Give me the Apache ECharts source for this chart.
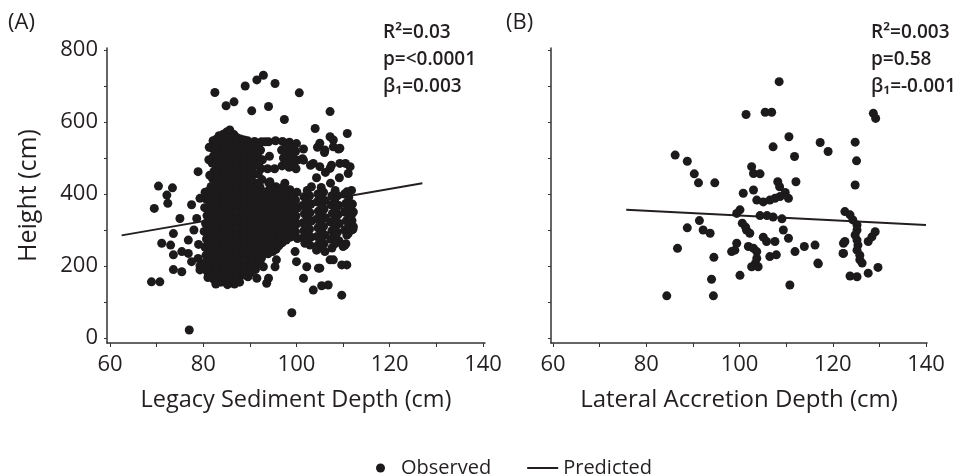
<!DOCTYPE html>
<html>
<head>
<meta charset="utf-8">
<script src="https://cdn.jsdelivr.net/npm/echarts@6/dist/echarts.min.js"></script>
<style>
html,body{margin:0;padding:0;background:#fff;}
#chart{width:956px;height:475px;}
</style>
</head>
<body>
<div id="chart"></div>
<script>
// ---- Data ----
const xTicks = [60, 80, 100, 120, 140];
const xMinorTicks = [60, 70, 80, 90, 100, 110, 120, 130, 140];
const yTicks = [0, 200, 400, 600, 800];
const yMinorTicks = [0, 100, 200, 300, 400, 500, 600, 700, 800];

const statsA = ['R\u00B2=0.03', 'p=<0.0001', '\u03B2\u2081=0.003'];
const statsB = ['R\u00B2=0.003', 'p=0.58', '\u03B2\u2081=-0.001'];

// Panel A: Legacy sediment depth (cm) vs height (cm)
const observedA = [
  // dense core columns
  [80.4,405],[80.7,385],[80.3,362],[80.8,340],[80.5,318],[80.2,296],[80.7,275],[80.4,252],[80.6,230],[80.3,208],[80.8,186],[81.0,168],
  [82.1,548],[81.8,528],[82.2,506],[81.9,486],[82.3,463],[82.0,443],[81.7,421],[82.2,400],[81.9,378],[82.1,357],[81.8,335],[82.3,313],[82.0,292],[81.7,270],[82.2,248],[81.9,227],[82.1,205],[81.8,184],[82.3,162],
  [83.4,562],[83.7,540],[83.3,518],[83.6,497],[83.5,475],[83.2,455],[83.8,433],[83.4,412],[83.6,390],[83.3,370],[83.7,348],[83.5,327],[83.2,305],[83.8,284],[83.4,262],[83.6,241],[83.3,220],[83.7,198],[83.5,177],[83.8,155],
  [85.0,572],[84.8,551],[85.2,530],[84.9,508],[85.1,487],[84.7,466],[85.3,444],[85.0,423],[84.8,402],[85.2,380],[84.9,359],[85.1,338],[84.7,316],[85.3,295],[85.0,274],[84.8,252],[85.2,231],[84.9,210],[85.1,188],[84.8,167],[85.2,148],
  [86.6,565],[86.3,545],[86.7,524],[86.4,503],[86.6,482],[86.2,461],[86.8,440],[86.5,419],[86.3,398],[86.7,377],[86.4,356],[86.6,335],[86.2,314],[86.8,293],[86.5,272],[86.3,251],[86.7,230],[86.4,209],[86.6,188],[86.3,167],[86.7,150],
  [88.0,553],[87.7,533],[88.2,512],[87.9,491],[88.1,470],[87.7,449],[88.3,428],[88.0,407],[87.8,386],[88.2,365],[87.9,344],[88.1,323],[87.7,302],[88.3,281],[88.0,260],[87.8,239],[88.2,218],[87.9,197],[88.1,176],[87.8,155],
  [89.5,548],[89.2,527],[89.7,506],[89.4,485],[89.6,463],[89.2,442],[89.8,421],[89.5,400],[89.3,379],[89.7,358],[89.4,337],[89.6,316],[89.2,295],[89.8,274],[89.5,253],[89.3,232],[89.7,211],[89.4,190],[89.6,170],
  [91.0,546],[90.8,525],[91.2,500],[90.9,478],[91.1,455],[90.7,432],[91.3,410],[91.0,388],[90.8,366],[91.2,344],[90.9,322],[91.1,300],[90.7,278],[91.3,256],[91.0,234],[90.8,212],[91.2,190],
  [92.5,545],[92.3,522],[92.7,495],[92.4,470],[92.6,440],[92.2,418],[92.8,396],[92.5,374],[92.3,352],[92.7,330],[92.4,308],[92.6,286],[92.2,264],[92.8,242],[92.5,222],
  [94.0,545],[94.2,505],[93.8,470],[94.1,430],[93.9,408],[94.2,386],[93.8,364],[94.1,342],[93.9,320],[94.2,298],[93.8,276],[94.1,254],[93.9,234],
  [95.5,548],[95.3,470],[95.6,420],[95.4,398],[95.7,376],[95.3,354],[95.6,332],[95.4,310],[95.7,288],[95.3,266],[95.6,246],
  [97.0,546],[96.8,522],[97.2,500],[96.9,478],[97.1,418],[96.8,396],[97.2,374],[96.9,352],[97.1,330],[96.8,308],[97.2,286],[96.9,264],
  [98.5,544],[98.3,520],[98.7,498],[98.4,474],[98.6,412],[98.3,390],[98.7,368],[98.4,346],[98.6,324],[98.3,302],[98.7,280],
  [100.0,540],[99.8,518],[100.2,494],[99.9,470],[100.1,405],[99.8,383],[100.2,361],[99.9,339],[100.1,317],[99.8,295],[100.2,276],
  [101.5,525],[101.3,498],[101.6,392],[101.3,368],[101.7,345],[101.4,320],[101.6,298],[101.3,278],
  [103.0,480],[103.2,420],[102.8,395],[103.1,372],[102.9,348],[103.2,325],[102.8,302],[103.1,280],[102.9,258],
  [104.5,530],[104.3,445],[104.6,400],[104.4,378],[104.7,352],[104.3,330],[104.6,306],[104.4,282],[104.6,258],
  [106.0,515],[106.2,460],[105.8,405],[106.1,382],[105.9,358],[106.2,334],[105.8,310],[106.1,286],[105.9,262],[106.1,240],
  [107.5,480],[107.3,430],[107.6,395],[107.4,370],[107.7,346],[107.3,322],[107.6,298],[107.4,274],[107.6,250],
  [109.0,525],[109.2,445],[108.8,395],[109.1,368],[108.9,342],[109.2,318],[108.8,294],[109.1,270],
  [110.5,485],[110.3,400],[110.6,374],[110.3,350],[110.7,326],[110.4,300],[110.6,262],
  [111.8,410],[112.0,372],[112.2,350],[111.9,326],[112.1,302],
  // interleaved points in the dense core
  [81.3,530],[81.2,495],[81.4,452],[81.3,410],[81.2,389],[81.4,367],[81.3,346],[81.2,325],[81.4,303],[81.3,282],[81.2,260],[81.4,238],[81.3,216],[81.2,195],[81.4,174],
  [82.8,552],[82.7,530],[82.9,508],[82.8,486],[82.7,465],[82.9,444],[82.8,422],[82.7,401],[82.9,380],[82.8,359],[82.7,338],[82.9,316],[82.8,295],[82.7,273],[82.9,252],[82.8,231],[82.7,209],[82.9,188],[82.8,166],[82.7,150],
  [84.3,566],[84.2,545],[84.4,524],[84.3,502],[84.2,481],[84.4,460],[84.3,438],[84.2,417],[84.4,396],[84.3,374],[84.2,353],[84.4,332],[84.3,310],[84.2,289],[84.4,268],[84.3,246],[84.2,225],[84.4,204],[84.3,182],[84.2,160],
  [85.8,560],[85.7,540],[85.9,519],[85.8,497],[85.7,476],[85.9,455],[85.8,433],[85.7,412],[85.9,391],[85.8,370],[85.7,348],[85.9,327],[85.8,305],[85.7,284],[85.9,263],[85.8,242],[85.7,220],[85.9,199],[85.8,178],[85.7,157],
  [87.3,556],[87.2,537],[87.4,516],[87.3,495],[87.2,474],[87.4,453],[87.3,432],[87.2,411],[87.4,390],[87.3,369],[87.2,348],[87.4,327],[87.3,306],[87.2,285],[87.4,264],[87.3,243],[87.2,222],[87.4,201],[87.3,180],[87.2,160],
  [88.8,550],[88.7,530],[88.9,509],[88.8,488],[88.7,467],[88.9,446],[88.8,425],[88.7,404],[88.9,383],[88.8,362],[88.7,341],[88.9,320],[88.8,299],[88.7,278],[88.9,257],[88.8,236],[88.7,215],[88.9,194],[88.8,175],
  [90.3,540],[90.2,516],[90.4,490],[90.3,466],[90.2,444],[90.4,421],[90.3,399],[90.2,377],[90.4,355],[90.3,333],[90.2,311],[90.4,289],[90.3,267],[90.2,245],[90.4,223],[90.3,201],[90.2,182],
  [91.8,534],[91.7,508],[91.9,483],[91.8,456],[91.7,430],[91.9,407],[91.8,385],[91.7,363],[91.9,341],[91.8,319],[91.7,297],[91.9,275],[91.8,253],[91.7,232],[91.9,210],
  [93.3,545],[93.2,405],[93.4,383],[93.3,361],[93.2,339],[93.4,317],[93.3,295],[93.2,273],[93.4,251],
  [94.8,415],[94.7,392],[94.9,370],[94.8,348],[94.7,326],[94.9,304],[94.8,282],[94.7,260],[94.9,240],
  [96.3,410],[96.2,388],[96.4,366],[96.3,344],[96.2,322],[96.4,300],[96.3,278],[96.2,256],
  [97.8,540],[97.7,510],[97.9,488],[97.8,405],[97.7,382],[97.9,360],[97.8,338],[97.7,316],[97.9,294],[97.8,272],
  [99.3,530],[99.2,505],[99.4,480],[99.3,400],[99.2,378],[99.4,356],[99.3,334],[99.2,312],[99.4,290],
  [102.3,410],[102.2,384],[102.4,360],[102.3,336],[102.2,312],[102.4,290],[102.3,268],
  [105.3,418],[105.2,392],[105.4,368],[105.3,344],[105.2,320],[105.4,296],[105.3,272],[105.2,250],
  [108.3,410],[108.2,380],[108.4,356],[108.3,332],[108.2,308],[108.4,284],[108.3,262],
  [111.2,390],[111.1,362],[111.3,338],[111.2,314],[111.1,290],
  // upper outliers
  [82.5,682],[84.9,645],[86.6,656],[89.0,700],[91.5,717],[92.9,730],[95.4,707],[90.4,631],[94.0,643],[97.4,607],[100.6,681],[107.2,629],[104.0,582],[110.9,568],[85.7,578],
  // left scatter
  [70.4,422],[73.4,417],[72.2,397],[72.4,374],[69.5,360],[77.5,370],[79.3,388],[78.9,462],[75.0,332],[78.6,332],[73.6,290],[71.1,263],[73.0,258],[76.8,272],[75.4,240],[73.6,231],[77.5,212],[73.6,190],[75.4,184],[79.3,189],[68.9,156],[70.7,156],[77.0,22],[76.8,235],[78.9,221],[79.3,200],[78.0,300],[79.0,260],
  // lower right scatter
  [99.0,70],[109.7,119],[110.8,203],[103.6,133],[105.4,145],[106.8,147],[105.0,194],[101.5,166],[107.2,217],[107.9,217],[109.7,203],[110.0,254],[102.2,198],[104.7,194],[100.0,212],[93.6,152],[91.5,166],[94.0,166],[92.2,207],[92.9,198],[95.7,217],[95.4,198],[101.8,263],[104.3,244],[99.7,240],[110.4,258],[110.8,286],[111.8,300],
  // right middle scatter
  [110.8,356],[111.5,365],[110.8,406],[111.1,457],[111.5,476],[107.9,531],[109.3,527],[105.0,541],[106.1,522],[107.2,559],[107.9,550],[105.0,476],[107.2,471],[103.6,485],[98.6,504],[101.5,494],[109.3,485],[111.8,342],[112.2,309],[97.5,430],[94.3,434]
];
const predictedA = [[62.5, 285], [127, 430]];

// Panel B: Lateral accretion depth (cm) vs height (cm)
const observedB = [
  [108.5,712],[101.4,621],[105.5,627],[106.9,627],[128.7,624],[129.2,610],[110.6,559],[107.2,531],[117.3,543],[119.0,518],[124.8,544],
  [86.2,508],[88.8,491],[111.8,504],[125.1,492],[90.3,456],[91.2,431],[94.7,431],[102.6,476],[103.0,457],[104.4,456],[112.1,434],
  [108.2,434],[108.6,420],[124.8,425],[100.8,402],[103.0,411],[109.8,404],[110.5,388],[103.7,383],[105.1,378],[106.5,383],[107.6,388],
  [108.7,393],[100.1,356],[99.4,346],[104.4,340],[105.9,340],[107.2,336],[109.1,331],[91.4,326],[100.6,319],[101.3,308],[88.8,306],
  [92.2,300],[93.7,291],[101.5,300],[102.2,291],[109.4,300],[105.1,280],[105.8,268],[110.5,277],[107.6,268],[99.4,263],[99.0,244],
  [98.3,240],[101.9,254],[103.0,249],[103.7,240],[103.7,221],[103.4,207],[102.6,198],[104.0,198],[106.5,226],[107.9,231],[111.9,240],
  [113.9,254],[116.2,258],[116.9,206],[122.3,263],[122.3,235],
  [122.6,351],[123.7,342],[124.3,328],[125.2,314],[125.2,300],[124.8,286],[125.2,272],[125.4,258],[125.2,244],[125.8,230],[125.8,217],[126.3,208],
  [122.6,268],[122.2,235],[127.6,268],[128.4,281],[129.1,295],[123.7,172],[125.2,170],[127.6,180],[129.7,196],[116.8,208],[110.8,147],
  [100.1,174],[94.0,163],[94.5,224],[94.4,117],[84.4,117],[86.7,249]
];
const predictedB = [[75.7, 356], [140, 314]];

// ---- Chart ----
const ink = '#231f20';
const dot = '#1c1a1b';
const font = 'Open Sans';
const chart = echarts.init(document.getElementById('chart'), null, {renderer: 'canvas'});

function xAxisCfg(gridIndex, min, max, title, titleSize) {
  return {
    type: 'value', gridIndex, min, max,
    name: title, nameLocation: 'middle', nameGap: 45,
    nameTextStyle: {color: ink, fontSize: titleSize, fontFamily: font},
    axisLine: {show: true, onZero: false, lineStyle: {color: '#333', width: 1.5}},
    axisTick: {show: true, length: 4, customValues: xMinorTicks, lineStyle: {color: '#333'}},
    axisLabel: {customValues: xTicks, margin: 11, color: ink, fontSize: 22, fontFamily: font},
    splitLine: {show: false}
  };
}
function yAxisCfg(gridIndex, showLabels, title) {
  return {
    type: 'value', gridIndex, min: -14, max: 805.6,
    name: title, nameLocation: 'middle', nameGap: 66,
    nameTextStyle: {color: ink, fontSize: 25, fontFamily: font},
    axisLine: {show: true, onZero: false, lineStyle: {color: '#333', width: 1.5}},
    axisTick: {show: true, length: 3, customValues: yMinorTicks, lineStyle: {color: '#333'}},
    axisLabel: {show: showLabels, customValues: yTicks, margin: 9, color: ink, fontSize: 22, fontFamily: font},
    splitLine: {show: false}
  };
}
function statText(x, lines) {
  return lines.map((t, i) => ({
    type: 'text', left: x, top: 23 + i * 27,
    style: {text: t, fill: ink, font: '600 19px "' + font + '"'}
  }));
}

chart.setOption({
  animation: false,
  backgroundColor: '#fff',
  grid: [
    {left: 107, top: 48, width: 378, height: 295},
    {left: 551, top: 48, width: 376, height: 295}
  ],
  xAxis: [
    xAxisCfg(0, 59.36, 140.43, 'Legacy Sediment Depth (cm)', 23.5),
    xAxisCfg(1, 59.57, 140.21, 'Lateral Accretion Depth (cm)', 24)
  ],
  yAxis: [
    yAxisCfg(0, true, 'Height (cm)'),
    yAxisCfg(1, false, '')
  ],
  legend: {
    left: 371, top: 453, itemWidth: 31, itemHeight: 9, itemGap: 36,
    textStyle: {color: ink, fontSize: 20, fontFamily: font},
    data: [
      {name: 'Observed', icon: 'circle'},
      {name: 'Predicted', icon: 'path://M0,0H31V2H0Z'}
    ]
  },
  graphic: [
    {type: 'text', left: 8, top: 12, style: {text: '(A)', fill: ink, font: '22px "' + font + '"'}},
    {type: 'text', left: 506, top: 12, style: {text: '(B)', fill: ink, font: '22px "' + font + '"'}}
  ].concat(statText(383, statsA), statText(871, statsB)),
  series: [
    {type: 'line', name: 'Predicted', xAxisIndex: 0, yAxisIndex: 0, data: predictedA,
     symbol: 'none', z: 1, lineStyle: {color: ink, width: 2}, itemStyle: {color: ink}},
    {type: 'scatter', name: 'Observed', xAxisIndex: 0, yAxisIndex: 0, data: observedA,
     symbol: 'circle', symbolSize: 9, z: 2, itemStyle: {color: dot, opacity: 1}},
    {type: 'line', name: 'Predicted', xAxisIndex: 1, yAxisIndex: 1, data: predictedB,
     symbol: 'none', z: 1, lineStyle: {color: ink, width: 2}, itemStyle: {color: ink}},
    {type: 'scatter', name: 'Observed', xAxisIndex: 1, yAxisIndex: 1, data: observedB,
     symbol: 'circle', symbolSize: 9, z: 2, itemStyle: {color: dot, opacity: 1}}
  ]
});
</script>
</body>
</html>
